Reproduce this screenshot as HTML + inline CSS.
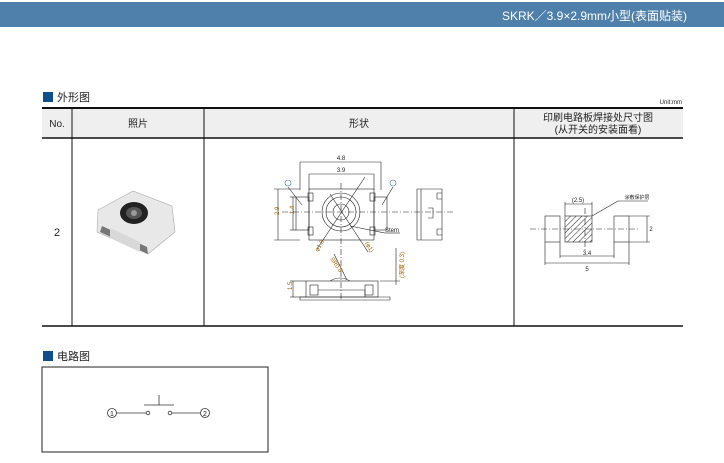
<!DOCTYPE html>
<html><head><meta charset="utf-8"><style>
html,body{margin:0;padding:0;background:#fff;width:724px;height:463px;overflow:hidden}
svg{display:block}
text{font-family:"Liberation Sans","Noto Sans CJK SC",sans-serif}
</style></head><body>
<svg width="724" height="463" viewBox="0 0 724 463" xmlns="http://www.w3.org/2000/svg">
<defs>
<pattern id="h" width="4" height="4" patternUnits="userSpaceOnUse" patternTransform="rotate(45)"><line x1="0" y1="0" x2="0" y2="4" stroke="#222" stroke-width="1"/></pattern>
</defs>
<rect x="0" y="2" width="724" height="25" fill="#4f7fab"/>
<text x="687" y="20" font-size="12" fill="#fff" text-anchor="end">SKRK／3.9×2.9mm小型(表面贴装)</text>

<rect x="43" y="92" width="10" height="10" fill="#0d4e8c"/>
<text x="57" y="101" font-size="11" fill="#222">外形图</text>
<text x="682" y="104" font-size="6" fill="#222" text-anchor="end">Unit:mm</text>

<rect x="42" y="108" width="641" height="30" fill="#efefef"/>
<line x1="42" y1="108" x2="683" y2="108" stroke="#111" stroke-width="2"/>
<line x1="42" y1="138" x2="683" y2="138" stroke="#111" stroke-width="1.5"/>
<line x1="42" y1="326" x2="683" y2="326" stroke="#111" stroke-width="1.5"/>
<g stroke="#111" stroke-width="1"><line x1="72" y1="108" x2="72" y2="326"/><line x1="204" y1="108" x2="204" y2="326"/><line x1="514" y1="108" x2="514" y2="326"/></g>
<g font-size="10" fill="#222" text-anchor="middle">
<text x="57" y="127">No.</text><text x="138" y="127">照片</text><text x="359" y="127">形状</text>
<text x="598" y="121">印刷电路板焊接处尺寸图</text><text x="598" y="133">(从开关的安装面看)</text>
<text x="57" y="236" font-size="11">2</text></g>

<!-- photo -->
<g>
<polygon points="98,210 133,191 172,206 175,232 148,254 97,232" fill="#e8e8e8" stroke="#aaa" stroke-width="0.6"/>
<polygon points="102,226 147,247 148,254 100,232" fill="#777"/>
<polygon points="110,228 140,242 140,252 110,238" fill="#d8d8d8"/>
<ellipse cx="134" cy="213" rx="14" ry="11" fill="#222"/>
<ellipse cx="134" cy="213" rx="8" ry="6" fill="#555"/>
<circle cx="134" cy="213" r="3" fill="#999"/>
</g>

<!-- shape drawing -->
<g stroke="#222" stroke-width="0.6" fill="none">
<line x1="300" y1="162" x2="381" y2="162"/><line x1="300" y1="162" x2="300" y2="190"/><line x1="381" y1="162" x2="381" y2="190"/>
<line x1="309" y1="174" x2="374" y2="174"/><line x1="309" y1="174" x2="309" y2="190"/><line x1="374" y1="174" x2="374" y2="190"/>
<rect x="309" y="189" width="65" height="51"/>
<rect x="296" y="197" width="13" height="33"/><rect x="374" y="197" width="13" height="33"/>
<rect x="308" y="193" width="5" height="8"/><rect x="308" y="227" width="5" height="8"/>
<rect x="370" y="193" width="5" height="8"/><rect x="370" y="227" width="5" height="8"/>
<circle cx="341" cy="212" r="19"/><circle cx="341" cy="212" r="15"/><circle cx="341" cy="212" r="8"/>
<line x1="317" y1="249" x2="365" y2="177"/><line x1="330" y1="194" x2="368" y2="252"/>
<line x1="350" y1="226" x2="385" y2="233"/><line x1="385" y1="233" x2="400" y2="233"/>
<line x1="274" y1="189" x2="300" y2="189"/><line x1="274" y1="240" x2="300" y2="240"/><line x1="278" y1="189" x2="278" y2="240"/>
<line x1="290" y1="197" x2="296" y2="197"/><line x1="290" y1="230" x2="296" y2="230"/><line x1="293" y1="197" x2="293" y2="230"/>
<line x1="288" y1="187" x2="302" y2="205"/><line x1="393" y1="187" x2="382" y2="205"/>
<line x1="341" y1="183" x2="341" y2="300" stroke-dasharray="6,2,1,2"/>
<line x1="282" y1="212" x2="455" y2="212" stroke-dasharray="6,2,1,2"/>
<!-- side view -->
<path d="M417,189 h25 v51 h-25 z M421,189 v51 M442,193 h-5 v6 h5 M442,229 h-5 v6 h5 M428,208 h5 v10 h-5"/>
<!-- bottom view -->
<rect x="306" y="281" width="72" height="16"/>
<path d="M300,297 h90 v3 h-90 z M318,290 h47 v7 M330,281 q10,-6 20,0"/>
<rect x="310" y="285" width="8" height="10"/><rect x="365" y="285" width="8" height="10"/>
<line x1="290" y1="281" x2="306" y2="281"/><line x1="290" y1="297" x2="306" y2="297"/><line x1="293" y1="281" x2="293" y2="297"/>
<line x1="380" y1="281" x2="400" y2="281"/><line x1="396" y1="248" x2="396" y2="285"/>
<line x1="334" y1="254" x2="347" y2="280"/>
</g>
<g font-size="6" fill="#222">
<text x="341" y="160" text-anchor="middle">4.8</text><text x="341" y="172" text-anchor="middle">3.9</text>
<text x="385" y="232" font-size="6">Stem</text>
<text x="276" y="218" transform="rotate(-90 276 215)" fill="#a06000">2.9</text>
<text x="291" y="217" transform="rotate(-90 291 214)" fill="#a06000">1.4</text>
<text x="288" y="294" transform="rotate(-90 288 290)" fill="#a06000">1.5</text>
<text x="318" y="252" transform="rotate(-60 318 252)" fill="#a06000">φ1.8</text>
<text x="365" y="243" transform="rotate(60 365 243)" fill="#a06000">(φ1)</text>
<text x="330" y="259" transform="rotate(55 330 259)" fill="#a06000">SR0.8</text>
<text x="404" y="278" transform="rotate(-90 404 278)" fill="#a06000">(深度 0.3)</text>
</g>
<g fill="none" stroke="#3a6fb0" stroke-width="0.6"><circle cx="288" cy="183" r="3"/><circle cx="393" cy="183" r="3"/></g>

<!-- PCB -->
<g stroke="#222" stroke-width="0.6" fill="none">
<rect x="545" y="216" width="15" height="26"/><rect x="614" y="216" width="15" height="26"/>
<rect x="565" y="216" width="27" height="26" fill="url(#h)"/>
<line x1="565" y1="204" x2="592" y2="204"/><line x1="565" y1="202" x2="565" y2="216"/><line x1="592" y1="202" x2="592" y2="216"/>
<line x1="560" y1="256" x2="614" y2="256"/><line x1="560" y1="242" x2="560" y2="258"/><line x1="614" y1="242" x2="614" y2="258"/>
<line x1="545" y1="263" x2="629" y2="263"/><line x1="545" y1="242" x2="545" y2="265"/><line x1="629" y1="242" x2="629" y2="265"/>
<line x1="629" y1="216" x2="650" y2="216"/><line x1="629" y1="242" x2="650" y2="242"/><line x1="647" y1="216" x2="647" y2="242"/>
<line x1="592" y1="216" x2="618" y2="201"/><line x1="618" y1="201" x2="648" y2="201"/>
<line x1="530" y1="229" x2="640" y2="229" stroke-dasharray="6,2,1,2"/><line x1="585" y1="208" x2="585" y2="250" stroke-dasharray="6,2,1,2"/>
</g>
<g font-size="6" fill="#222" text-anchor="middle"><text x="578" y="202">(2.5)</text><text x="587" y="255">3.4</text><text x="587" y="271">5</text><text x="651" y="231">2</text><text x="637" y="199" font-size="5">涂敷保护层</text></g>

<!-- circuit -->
<rect x="43" y="351" width="10" height="10" fill="#0d4e8c"/>
<text x="57" y="360" font-size="11" fill="#222">电路图</text>
<rect x="42" y="367" width="226" height="85" fill="none" stroke="#222" stroke-width="1"/>
<g stroke="#333" stroke-width="0.8" fill="none">
<circle cx="112" cy="413" r="4.5"/><circle cx="205" cy="413" r="4.5"/>
<line x1="117" y1="413" x2="146" y2="413"/><circle cx="148" cy="413" r="1.8"/>
<circle cx="170" cy="413" r="1.8"/><line x1="172" y1="413" x2="200" y2="413"/>
<line x1="144" y1="405" x2="174" y2="405"/><line x1="159" y1="395" x2="159" y2="405"/>
</g>
<g font-size="7" fill="#222" text-anchor="middle"><text x="112" y="416">1</text><text x="205" y="416">2</text></g>
</svg>
</body></html>
